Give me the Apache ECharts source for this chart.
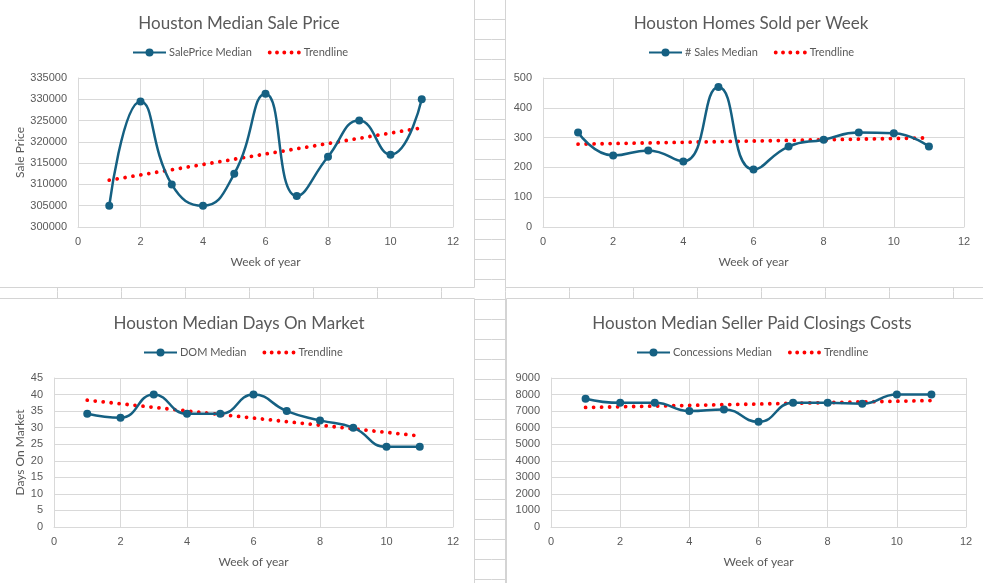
<!DOCTYPE html>
<html><head><meta charset="utf-8">
<script src="https://cdn.jsdelivr.net/npm/echarts@6/dist/echarts.min.js"></script>
<style>html,body{margin:0;padding:0;background:#fff;overflow:hidden}#c{width:983px;height:583px}</style>
</head><body><div id="c"></div>
<script>
// ---- data ----
const weeks = [1, 2, 3, 4, 5, 6, 7, 8, 9, 10, 11];
const salePriceMedian = [305000, 329500, 310000, 305000, 312500, 331300, 307300, 316500, 325000, 317000, 330000];
const salesMedian = [317, 240, 257, 220, 470, 193, 270, 293, 317, 315, 270];
const domMedian = [34.2, 33, 40, 34.2, 34.2, 40, 35, 32.2, 30, 24.2, 24.2];
const concessionsMedian = [7750, 7500, 7500, 7000, 7100, 6350, 7500, 7500, 7450, 8000, 8000];
const trendWeeks = [1, 11];
const salePriceTrend = [311000, 323300];
const salesTrend = [278, 299];
const domTrend = [38.3, 27.5];
const concessionsTrend = [7220, 7640];
const chartTitles = ['Houston Median Sale Price', 'Houston Homes Sold per Week', 'Houston Median Days On Market', 'Houston Median Seller Paid Closings Costs'];
const seriesNames = ['SalePrice Median', '# Sales Median', 'DOM Median', 'Concessions Median'];
const trendName = 'Trendline';
const xAxisName = 'Week of year';
const yAxisNames = ['Sale Price', '', 'Days On Market', ''];
const xTicks = { min: 0, max: 12, interval: 2 };
const yMin = [300000, 0, 0, 0];
const yMax = [335000, 500, 45, 9000];
const yInterval = [5000, 100, 5, 1000];

const mainData = [salePriceMedian, salesMedian, domMedian, concessionsMedian];
const trendData = [salePriceTrend, salesTrend, domTrend, concessionsTrend];

// ---- layout ----
const grids = [
  { left: 78, top: 78, width: 375, height: 149 },
  { left: 543, top: 78, width: 421, height: 149 },
  { left: 54, top: 378, width: 399, height: 149 },
  { left: 551, top: 378, width: 415, height: 149 }
];
const titlePos = [[234, 10], [746, 10], [234, 310], [747, 310]];
const legendPos = [[127, 42], [643, 42], [138, 342], [631, 342]];
const yNameGap = [50, 0, 28, 0];

const LINE = '#156082', GRID = '#d9d9d9', TXT = '#595959';
const FONT = 'Lato, "Open Sans", sans-serif';
const NUMFONT = '"Liberation Sans", Arial, sans-serif';
// legend icon: five round dots
const DOTS_ICON = 'path://' + [0, 1, 2, 3, 4].map(k => {
  const cx = 2 + k * 7.5;
  return 'M' + (cx - 2) + ',2a2,2 0 1,0 4,0a2,2 0 1,0 -4,0Z';
}).join(' ');

// ---- spreadsheet background ----
const graphic = [];
for (let y = 19; y < 583; y += 20) {
  graphic.push({ type: 'line', z: 0, silent: true, shape: { x1: 0, y1: y + 0.5, x2: 983, y2: y + 0.5 }, style: { stroke: '#d4d4d4', lineWidth: 1 } });
}
for (let x = 57; x < 983; x += 64) {
  graphic.push({ type: 'line', z: 0, silent: true, shape: { x1: x + 0.5, y1: 0, x2: x + 0.5, y2: 583 }, style: { stroke: '#d4d4d4', lineWidth: 1 } });
}
const panels = [
  [-1, -1, 475.5, 288.5],
  [505.5, -1, 480, 288.5],
  [-1, 298.5, 475.5, 290],
  [506.5, 298.5, 480, 290]
];
panels.forEach(p => graphic.push({ type: 'rect', z: 1, silent: true, shape: { x: p[0], y: p[1], width: p[2], height: p[3] }, style: { fill: '#fff', stroke: '#d4d4d4', lineWidth: 1 } }));

const option = {
  animation: false,
  backgroundColor: '#fff',
  graphic: graphic,
  title: chartTitles.map((t, i) => ({ text: t, left: titlePos[i][0], top: titlePos[i][1], textAlign: 'center', z: 6,
    textStyle: { color: TXT, fontSize: 17, fontWeight: 'normal', fontFamily: FONT } })),
  legend: seriesNames.map((n, i) => ({
    data: [n, { name: trendName, icon: DOTS_ICON }],
    left: legendPos[i][0], top: legendPos[i][1], z: 6,
    itemWidth: 33, itemHeight: 10, itemGap: 16, selectedMode: false,
    textStyle: { color: TXT, fontSize: 11, fontFamily: FONT, padding: [0, 0, 0, -2] } })),
  grid: grids.map(g => Object.assign({ containLabel: false, z: 3 }, g)),
  xAxis: grids.map((g, i) => ({ type: 'value', gridIndex: i, z: 3, min: xTicks.min, max: xTicks.max, interval: xTicks.interval,
    name: xAxisName, nameLocation: 'middle', nameGap: 29,
    nameTextStyle: { color: TXT, fontSize: 12, fontFamily: FONT },
    axisLine: { show: true, onZero: false, lineStyle: { color: GRID, width: 1 } },
    axisTick: { show: false },
    axisLabel: { color: TXT, fontSize: 11, fontFamily: NUMFONT, margin: 9, formatter: v => String(v) },
    splitLine: { show: true, lineStyle: { color: GRID, width: 1 } } })),
  yAxis: grids.map((g, i) => ({ type: 'value', gridIndex: i, z: 3, min: yMin[i], max: yMax[i], interval: yInterval[i],
    name: yAxisNames[i], nameLocation: 'middle', nameGap: yNameGap[i], nameRotate: 90,
    nameTextStyle: { color: TXT, fontSize: 12, fontFamily: FONT },
    axisLine: { show: true, lineStyle: { color: GRID, width: 1 } },
    axisTick: { show: false },
    axisLabel: { color: TXT, fontSize: 11, fontFamily: NUMFONT, margin: 11, formatter: v => String(v) },
    splitLine: { show: true, lineStyle: { color: GRID, width: 1 } } })),
  series: []
};

seriesNames.forEach((n, i) => {
  option.series.push({
    name: n, type: 'line', xAxisIndex: i, yAxisIndex: i, z: 5,
    data: weeks.map((w, k) => [w, mainData[i][k]]),
    smooth: 0.5, symbol: 'circle', symbolSize: 8, showSymbol: true,
    itemStyle: { color: LINE },
    lineStyle: { color: LINE, width: 2.5 }
  });
  option.series.push({
    name: trendName, type: 'line', xAxisIndex: i, yAxisIndex: i, z: 4,
    data: trendWeeks.map((w, k) => [w, trendData[i][k]]),
    symbol: 'none', showSymbol: false,
    itemStyle: { color: '#ff0000' },
    lineStyle: { color: '#ff0000', width: 3.8, type: [0.01, 8], cap: 'round' }
  });
});

const chart = echarts.init(document.getElementById('c'), null, { renderer: 'canvas' });
chart.setOption(option);
</script>
</body></html>
